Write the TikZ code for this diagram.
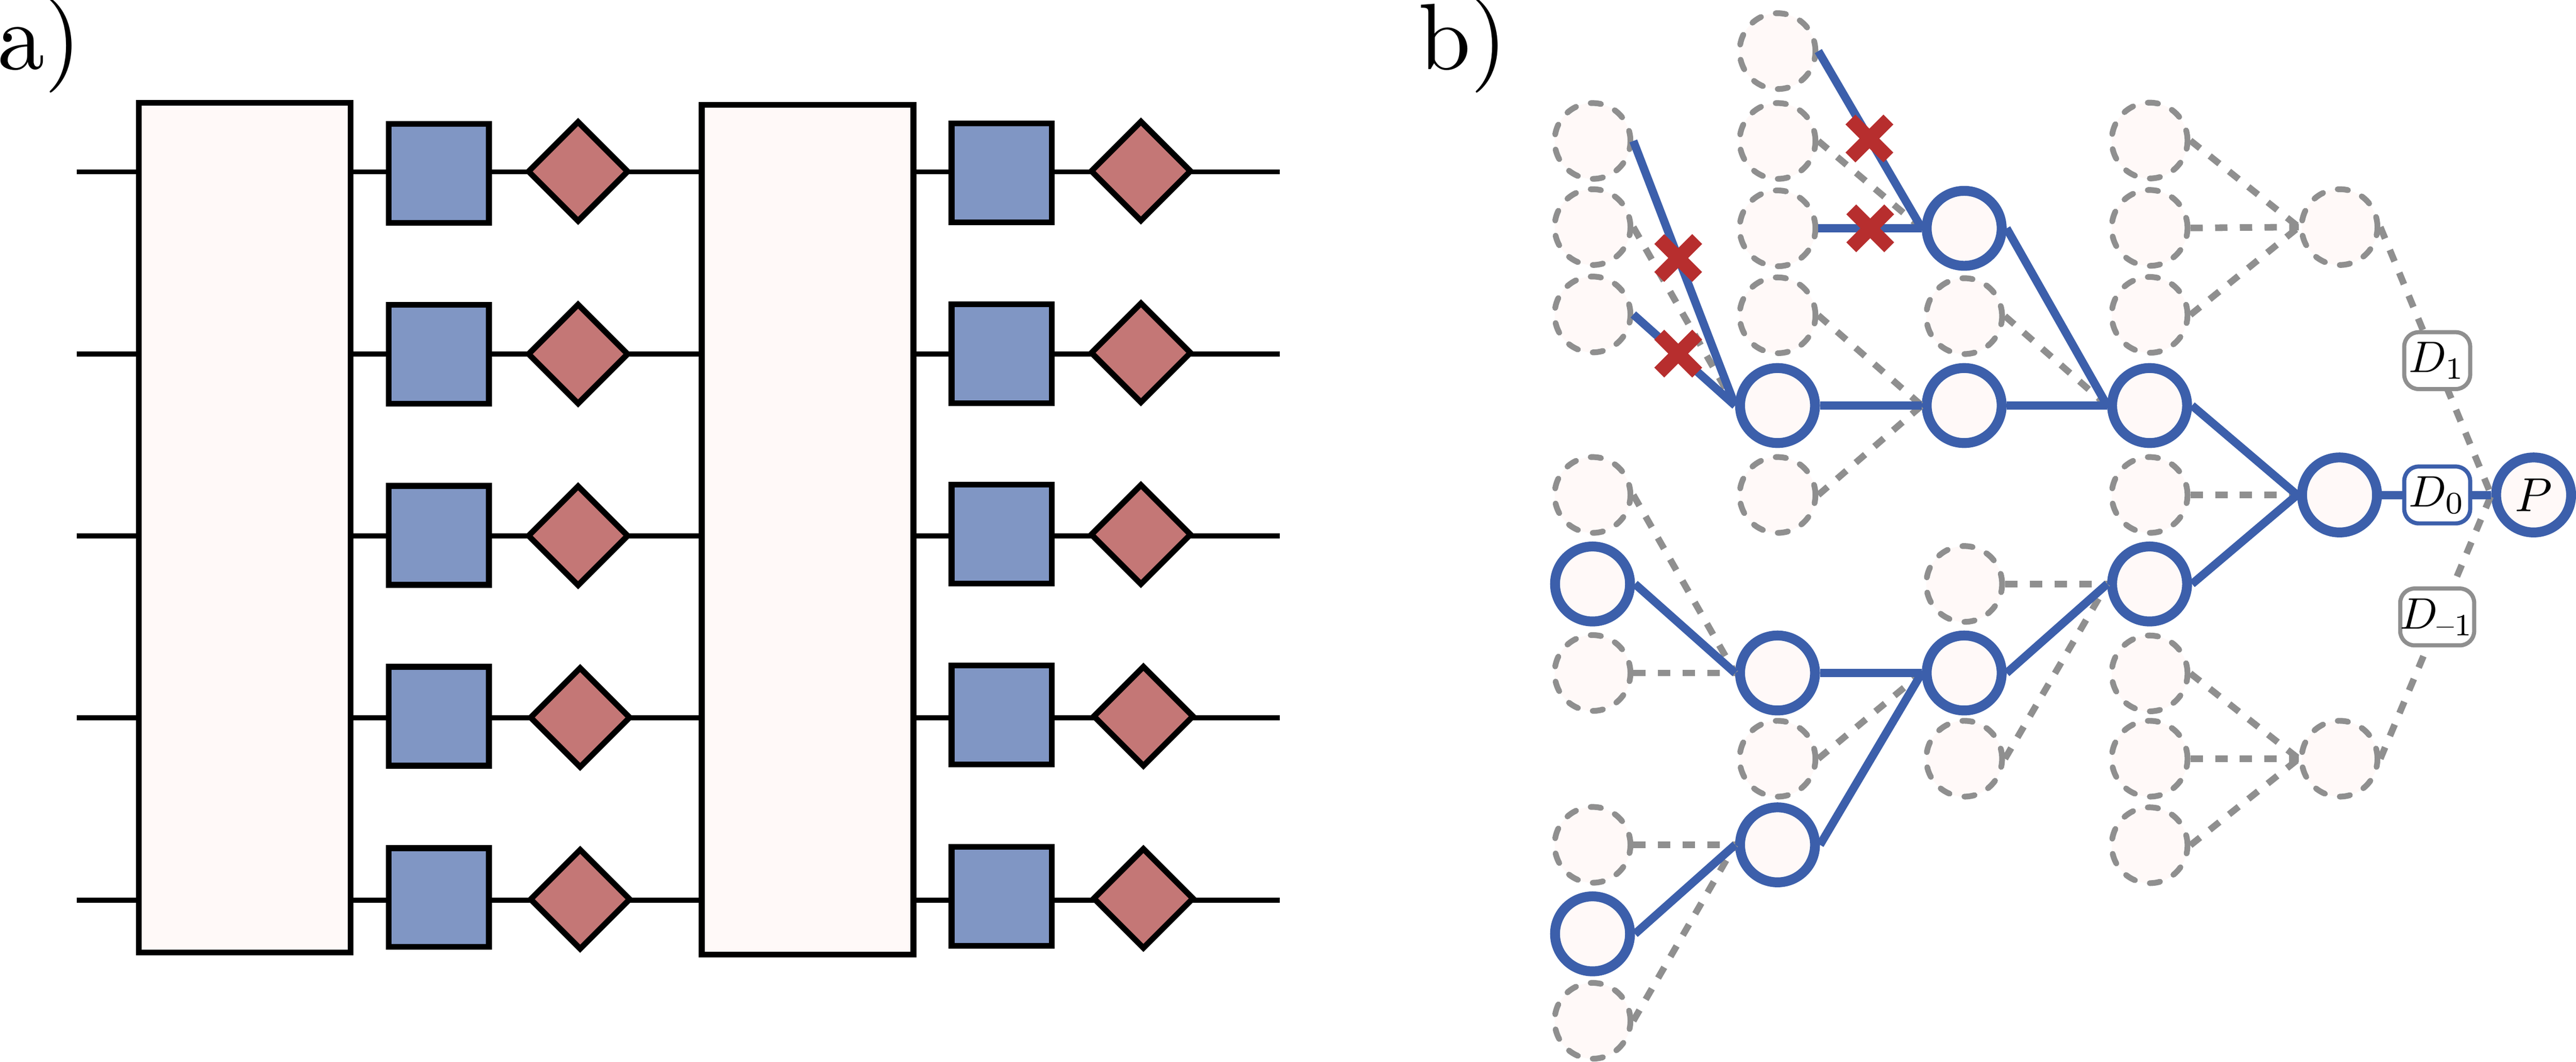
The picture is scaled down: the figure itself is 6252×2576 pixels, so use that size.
\documentclass[tikz,border=0pt]{standalone}
\usepackage{amsmath}
\usepackage{graphicx}
\usetikzlibrary{shapes.geometric,shapes.misc}

\definecolor{blockfill}{HTML}{FFF9F8}
\definecolor{gatefill}{HTML}{8096C4}
\definecolor{measfill}{HTML}{C47776}
\definecolor{treeblue}{HTML}{3C5FAB}
\definecolor{treegray}{HTML}{8F8F8F}
\definecolor{cutred}{HTML}{B72E2E}

\newcommand{\boxlabel}[1]{\scalebox{0.61}{$#1$}}

\tikzset{
  wire/.style={black,line width=0.24mm},
  block/.style={rectangle,draw=black,fill=blockfill,line width=0.28mm,minimum width=10.28mm,minimum height=41.24mm,inner sep=0pt},
  gatebox/.style={rectangle,draw=black,fill=gatefill,line width=0.28mm,minimum width=4.86mm,minimum height=4.8mm,inner sep=0pt},
  measbox/.style={diamond,draw=black,fill=measfill,line width=0.28mm,minimum width=4.92mm,minimum height=4.92mm,inner sep=0pt},
  paneltag/.style={anchor=base west,inner sep=0pt},
  ghost/.style={circle,draw=treegray,fill=blockfill,line width=0.28mm,line cap=round,dash pattern=on 0.5mm off 0.74mm,minimum size=3.68mm,inner sep=0pt},
  hub/.style={circle,draw=treeblue,fill=blockfill,line width=0.48mm,minimum size=3.64mm,inner sep=0pt},
  graylink/.style={treegray,line width=0.32mm,dash pattern=on 0.6mm off 0.6mm},
  bluelink/.style={treeblue,line width=0.4mm},
  distbox/.style={rectangle,rounded corners=0.7mm,fill=white,line width=0.2mm,minimum width=3.2mm,minimum height=2.76mm,inner sep=0pt},
  cutmark/.style={cross out,draw=cutred,line width=0.68mm,minimum size=1.84mm,inner sep=0pt,outer sep=0pt}
}

\begin{document}
\begin{tikzpicture}[x=0.02mm,y=-0.02mm]
  \useasboundingbox (0,0) rectangle (6252,2576);

  \node[paneltag] (taga) at (-9,168) {\scalebox{1.3}{a)}};
  \node[paneltag] (tagb) at (3439,168) {\scalebox{1.3}{b)}};

  % wires behind the gates
  \coordinate (wl1) at (186,417);
  \coordinate (wl2) at (186,859);
  \coordinate (wl3) at (186,1300);
  \coordinate (wl4) at (186,1742);
  \coordinate (wl5) at (186,2184);
  \coordinate (wr1) at (3106,417);
  \coordinate (wr2) at (3106,859);
  \coordinate (wr3) at (3106,1300);
  \coordinate (wr4) at (3106,1742);
  \coordinate (wr5) at (3106,2184);
  \draw[wire] (wl1) -- (wr1);
  \draw[wire] (wl2) -- (wr2);
  \draw[wire] (wl3) -- (wr3);
  \draw[wire] (wl4) -- (wr4);
  \draw[wire] (wl5) -- (wr5);

  \node[block] (blockA) at (594,1280) {};
  \node[block] (blockB) at (1960,1285) {};

  \node[gatebox] (gateA1) at (1065,421) {};
  \node[gatebox] (gateA2) at (1065,860) {};
  \node[gatebox] (gateA3) at (1065,1299) {};
  \node[gatebox] (gateA4) at (1065,1738) {};
  \node[gatebox] (gateA5) at (1065,2178) {};
  \node[gatebox] (gateB1) at (2431,419) {};
  \node[gatebox] (gateB2) at (2431,858) {};
  \node[gatebox] (gateB3) at (2431,1296) {};
  \node[gatebox] (gateB4) at (2431,1735) {};
  \node[gatebox] (gateB5) at (2431,2175) {};

  \node[measbox] (measA1) at (1403,416) {};
  \node[measbox] (measA2) at (1403,859) {};
  \node[measbox] (measA3) at (1403,1300) {};
  \node[measbox] (measA4) at (1408,1741) {};
  \node[measbox] (measA5) at (1408,2182) {};
  \node[measbox] (measB1) at (2769,415) {};
  \node[measbox] (measB2) at (2769,856) {};
  \node[measbox] (measB3) at (2769,1297) {};
  \node[measbox] (measB4) at (2775,1738) {};
  \node[measbox] (measB5) at (2775,2180) {};

  % first column of the tree
  \node[ghost] (c1a) at (3865,342) {};
  \node[ghost] (c1b) at (3865,551) {};
  \node[ghost] (c1c) at (3865,763) {};
  \node[ghost] (c1d) at (3865,1201) {};
  \node[hub] (c1e) at (3865,1417) {};
  \node[ghost] (c1f) at (3865,1633) {};
  \node[ghost] (c1g) at (3865,2050) {};
  \node[hub] (c1h) at (3865,2266) {};
  \node[ghost] (c1i) at (3865,2477) {};

  % second column
  \node[ghost] (c2a) at (4314,124) {};
  \node[ghost] (c2b) at (4314,342) {};
  \node[ghost] (c2c) at (4314,554) {};
  \node[ghost] (c2d) at (4314,765) {};
  \node[hub] (c2e) at (4314,984) {};
  \node[ghost] (c2f) at (4314,1201) {};
  \node[hub] (c2g) at (4314,1633) {};
  \node[ghost] (c2h) at (4314,1841) {};
  \node[hub] (c2i) at (4314,2050) {};

  % third column
  \node[hub] (c3a) at (4767,554) {};
  \node[ghost] (c3b) at (4767,767) {};
  \node[hub] (c3c) at (4767,984) {};
  \node[ghost] (c3d) at (4767,1417) {};
  \node[hub] (c3e) at (4767,1633) {};
  \node[ghost] (c3f) at (4767,1841) {};

  % fourth column
  \node[ghost] (c4a) at (5217,341) {};
  \node[ghost] (c4b) at (5217,553) {};
  \node[ghost] (c4c) at (5217,764) {};
  \node[hub] (c4d) at (5217,984) {};
  \node[ghost] (c4e) at (5217,1201) {};
  \node[hub] (c4f) at (5217,1417) {};
  \node[ghost] (c4g) at (5217,1634) {};
  \node[ghost] (c4h) at (5217,1841) {};
  \node[ghost] (c4i) at (5217,2051) {};

  % fifth column and the root
  \node[ghost] (c5a) at (5678,551) {};
  \node[hub] (c5b) at (5678,1201) {};
  \node[ghost] (c5c) at (5678,1841) {};
  \node[hub] (root) at (6149,1201) {\scalebox{0.66}{$P$}};

  % pruned branches
  \draw[graylink] (c1b.east) -- (c2e.west);
  \draw[graylink] (c1d.east) -- (c2g.west);
  \draw[graylink] (c1f.east) -- (c2g.west);
  \draw[graylink] (c1g.east) -- (c2i.west);
  \draw[graylink] (c1i.east) -- (c2i.west);
  \draw[graylink] (c2b.east) -- (c3a.west);
  \draw[graylink] (c2d.east) -- (c3c.west);
  \draw[graylink] (c2f.east) -- (c3c.west);
  \draw[graylink] (c2h.east) -- (c3e.west);
  \draw[graylink] (c3b.east) -- (c4d.west);
  \draw[graylink] (c3d.east) -- (c4f.west);
  \draw[graylink] (c3f.east) -- (c4f.west);
  \draw[graylink] (c4a.east) -- (c5a.west);
  \draw[graylink] (c4b.east) -- (c5a.west);
  \draw[graylink] (c4c.east) -- (c5a.west);
  \draw[graylink] (c4e.east) -- (c5b.west);
  \draw[graylink] (c4g.east) -- (c5c.west);
  \draw[graylink] (c4h.east) -- (c5c.west);
  \draw[graylink] (c4i.east) -- (c5c.west);
  \draw[graylink] (c5a.east) -- (root.west);
  \draw[graylink] (c5c.east) -- (root.west);

  % kept branches
  \draw[bluelink] (c1a.east) -- (c2e.west);
  \draw[bluelink] (c1c.east) -- (c2e.west);
  \draw[bluelink] (c1e.east) -- (c2g.west);
  \draw[bluelink] (c1h.east) -- (c2i.west);
  \draw[bluelink] (c2a.east) -- (c3a.west);
  \draw[bluelink] (c2c.east) -- (c3a.west);
  \draw[bluelink] (c2e.east) -- (c3c.west);
  \draw[bluelink] (c2g.east) -- (c3e.west);
  \draw[bluelink] (c2i.east) -- (c3e.west);
  \draw[bluelink] (c3a.east) -- (c4d.west);
  \draw[bluelink] (c3c.east) -- (c4d.west);
  \draw[bluelink] (c3e.east) -- (c4f.west);
  \draw[bluelink] (c4d.east) -- (c5b.west);
  \draw[bluelink] (c4f.east) -- (c5b.west);
  \draw[bluelink] (c5b.east) -- (root.west);

  \node[distbox,draw=treegray] (dplus) at (5915,875) {\boxlabel{D_1}};
  \node[distbox,draw=treeblue] (dzero) at (5915,1201) {\boxlabel{D_0}};
  \node[distbox,draw=treegray] (dminus) at (5915,1497) {\boxlabel{D_{\text{--}1}}};

  \node[cutmark] (cuta) at (4537,336) {};
  \node[cutmark] (cutb) at (4539,554) {};
  \node[cutmark] (cutc) at (4073,626) {};
  \node[cutmark] (cutd) at (4073,858) {};
\end{tikzpicture}
\end{document}
